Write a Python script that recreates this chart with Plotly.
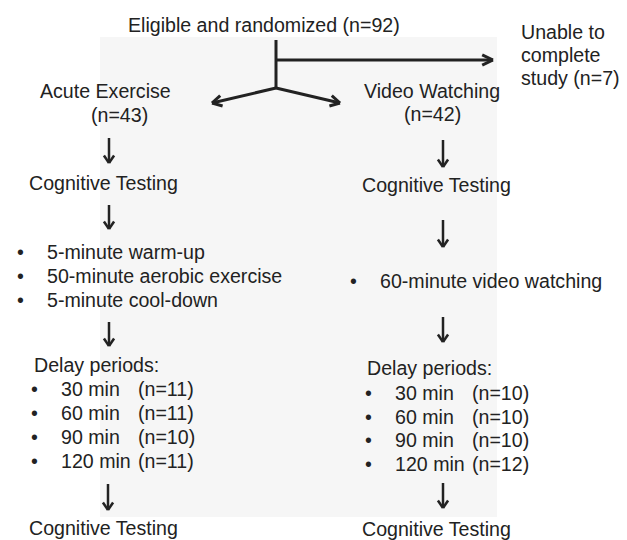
import math
import plotly.graph_objects as go

# ---- content ----
top_label = "Eligible and randomized (n=92)"
dropout_lines = ["Unable to", "complete", "study (n=7)"]
groups = ["Acute Exercise", "Video Watching"]
group_n = [43, 42]
test_label = "Cognitive Testing"
exercise_steps = ["5-minute warm-up", "50-minute aerobic exercise", "5-minute cool-down"]
video_steps = ["60-minute video watching"]
delay_title = "Delay periods:"
delay_minutes = [30, 60, 90, 120]
delay_n_exercise = [11, 11, 10, 11]
delay_n_video = [10, 10, 10, 12]

FONT = "Liberation Sans, Arial, Helvetica, sans-serif"
FS = 19.6
COL = "#222222"
OFF = 8  # page body margin

fig = go.Figure()
ann = []
shapes = []

def txt(x, y, s, anchor="center"):
    ann.append(dict(x=x, y=y, text=s, showarrow=False, xanchor=anchor, yanchor="middle",
                    font=dict(family=FONT, size=FS, color=COL)))

def seg(x0, y0, x1, y1, w=2.5):
    shapes.append(dict(type="line", x0=x0, y0=y0, x1=x1, y1=y1,
                       line=dict(color=COL, width=w)))

def arrow(x0, y0, x1, y1, head=9, spread=0.6, w=2.5):
    seg(x0, y0, x1, y1, w)
    ang = math.atan2(y1 - y0, x1 - x0)
    for s in (spread, -spread):
        a = ang + math.pi - s
        seg(x1, y1, x1 + head * math.cos(a), y1 + head * math.sin(a), w)

# faint background panel
shapes.append(dict(type="rect", x0=100, x1=497, y0=37, y1=517,
                   fillcolor="#f6f6f6", line=dict(width=0), layer="below"))

# top
txt(264, 25, top_label)
for i, line in enumerate(dropout_lines):
    txt(519, 32 + i * 23, line, anchor="left")
seg(276, 40, 276, 88, w=3)
arrow(276, 60, 493, 60, head=12, spread=0.45, w=3)
arrow(276, 88, 212, 103, head=11, spread=0.5, w=3)
arrow(276, 88, 340, 103, head=11, spread=0.5, w=3)

# group headers
txt(105, 91, groups[0])
txt(119.5, 115, f"(n={group_n[0]})")
txt(432, 91, groups[1])
txt(432, 114, f"(n={group_n[1]})")

# left column
arrow(109, 138, 109, 163)
txt(103.5, 183, test_label)
arrow(109, 205, 109, 229)
for i, s in enumerate(exercise_steps):
    y = 252 + i * 24
    txt(20, y, "•")
    txt(45, y, s, anchor="left")
arrow(109, 322, 109, 346)
txt(32, 365, delay_title, anchor="left")
for i, (m, n) in enumerate(zip(delay_minutes, delay_n_exercise)):
    y = 389 + i * 24
    txt(34, y, "•")
    txt(59, y, f"{m} min", anchor="left")
    txt(136, y, f"(n={n})", anchor="left")
arrow(108, 484, 108, 510)
txt(103.5, 528, test_label)

# right column
arrow(443, 140, 443, 167)
txt(436.5, 185, test_label)
arrow(443, 220, 443, 247)
for s in video_steps:
    txt(353, 281, "•")
    txt(378, 281, s, anchor="left")
arrow(443, 317, 443, 342)
txt(365, 368, delay_title, anchor="left")
for i, (m, n) in enumerate(zip(delay_minutes, delay_n_video)):
    y = 393 + i * 23.7
    txt(368, y, "•")
    txt(393, y, f"{m} min", anchor="left")
    txt(470, y, f"(n={n})", anchor="left")
arrow(443, 483, 443, 508)
txt(436.5, 529, test_label)

fig.update_layout(
    width=627, height=540,
    margin=dict(l=0, r=0, t=0, b=0),
    paper_bgcolor="white", plot_bgcolor="white",
    xaxis=dict(range=[OFF, 627 + OFF], visible=False, fixedrange=True),
    yaxis=dict(range=[540 + OFF, OFF], visible=False, fixedrange=True),
    annotations=ann, shapes=shapes, showlegend=False,
)
fig.write_html("out.html")
